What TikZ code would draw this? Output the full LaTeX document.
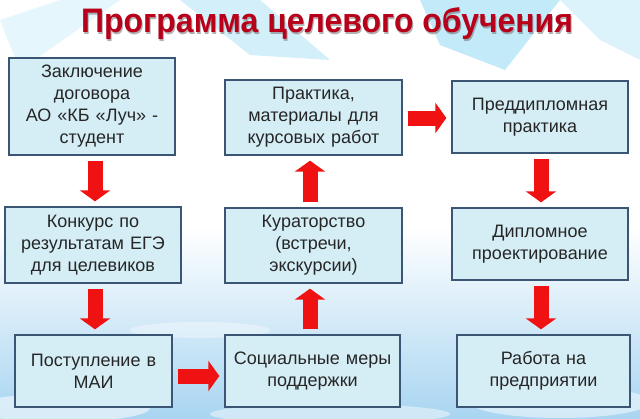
\documentclass[tikz,border=0pt]{standalone}
\usepackage{fontspec}
\setmainfont{Liberation Sans}
\usetikzlibrary{arrows.meta}
\definecolor{titleRed}{HTML}{B8001A}
\definecolor{boxFill}{HTML}{D5EEF5}
\definecolor{boxEdge}{HTML}{3B5675}
\definecolor{arrowRed}{HTML}{F01212}
\definecolor{skyTop}{HTML}{DDF2FA}
\definecolor{skyMid}{HTML}{A9D5F1}
\definecolor{skyBottom}{HTML}{5BA3DC}
\definecolor{streakBlue}{HTML}{52C4EC}
\pgfdeclareverticalshading{sky}{100bp}{color(0bp)=(skyBottom); color(25bp)=(skyMid); color(48bp)=(white); color(80bp)=(white); color(100bp)=(skyTop)}

\begin{document}
\begin{tikzpicture}[x=1pt, y=-1pt,
    stage/.style={draw=boxEdge, line width=1.3pt, fill=boxFill, align=center, inner sep=0pt,
        font=\fontsize{18}{22}\selectfont, text=black!85},
    heading/.style={font=\fontsize{34}{40}\bfseries},
    flow/.style={arrowRed, line width=15pt, -{Triangle[length=11pt, width=30pt]},
        shorten <=5pt, shorten >=5pt}]
    \useasboundingbox (0,0) rectangle (640,418);
    \shade[shading=sky] (0,0) rectangle (640,418);
    \fill[streakBlue, opacity=0.35] (420,0) -- (560,0) -- (505,70) -- (440,45) -- cycle;
    \fill[streakBlue, opacity=0.25] (180,0) -- (260,0) -- (330,60) -- (250,55) -- cycle;
    \fill[streakBlue, opacity=0.2] (560,0) -- (640,0) -- (640,60) -- (600,40) -- cycle;
    \fill[streakBlue, opacity=0.15] (0,20) -- (60,0) -- (120,0) -- (20,70) -- cycle;
    \fill[white, opacity=0.55] (60,408) ellipse (90 and 14);
    \fill[white, opacity=0.45] (330,414) ellipse (120 and 10);
    \fill[white, opacity=0.5] (560,402) ellipse (90 and 16);
    \fill[white, opacity=0.35] (200,330) ellipse (70 and 8);
    \node[heading, text=black!60, opacity=0.5] (titleShade) at (328,25.2) {\scalebox{0.94}[1]{Программа целевого обучения}};
    \node[heading, text=titleRed] (title) at (327,24) {\scalebox{0.94}[1]{Программа целевого обучения}};

    \node[stage, text width=166pt, minimum height=97pt] (contract) at (92,106.5) {Заключение\\договора\\АО «КБ «Луч» -\\студент};
    \node[stage, text width=176pt, minimum height=76pt] (contest) at (93,245) {Конкурс по\\результатам ЕГЭ\\для целевиков};
    \node[stage, text width=157pt, minimum height=72pt] (admission) at (93.5,371) {Поступление в\\МАИ};
    \node[stage, text width=175pt, minimum height=72pt] (support) at (312.5,371) {Социальные меры\\поддержки};
    \node[stage, text width=177pt, minimum height=75pt] (mentoring) at (313.5,245.5) {Кураторство\\(встречи,\\экскурсии)};
    \node[stage, text width=177pt, minimum height=75pt] (practice) at (313.5,117.5) {Практика,\\материалы для\\курсовых работ};
    \node[stage, text width=176pt, minimum height=72pt] (prediploma) at (540,117) {Преддипломная\\практика};
    \node[stage, text width=176pt, minimum height=72pt] (diploma) at (540,244) {Дипломное\\проектирование};
    \node[stage, text width=173pt, minimum height=72pt] (job) at (543.5,371) {Работа на\\предприятии};

    \draw[flow] (contract.south -| 95,0) -- (contest.north -| 95,0);
    \draw[flow] (contest.south -| 95,0) -- (admission.north -| 95,0);
    \draw[flow] (admission.east |- 0,376) -- (support.west |- 0,376);
    \draw[flow] (support.north -| 310,0) -- (mentoring.south -| 310,0);
    \draw[flow] (mentoring.north -| 310,0) -- (practice.south -| 310,0);
    \draw[flow] (practice.east |- 0,118) -- (prediploma.west |- 0,118);
    \draw[flow] (prediploma.south -| 541,0) -- (diploma.north -| 541,0);
    \draw[flow] (diploma.south -| 541,0) -- (job.north -| 541,0);
\end{tikzpicture}
\end{document}
